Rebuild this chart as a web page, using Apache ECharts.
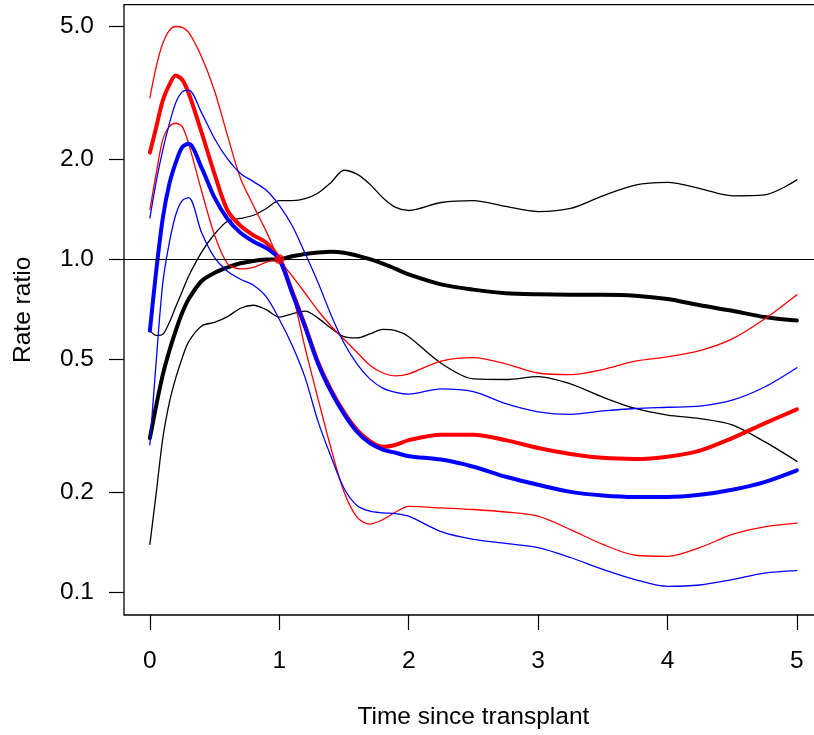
<!DOCTYPE html>
<html><head><meta charset="utf-8">
<script src="https://cdn.jsdelivr.net/npm/echarts@6/dist/echarts.min.js"></script>
<style>html,body{margin:0;padding:0;background:#fff;overflow:hidden}#c{width:840px;height:735px}</style>
</head><body><div id="c"></div>
<script>
// ---- data (rate ratios on a log scale) ----
const xs = [0,0.05,0.1,0.15,0.2,0.25,0.3,0.4,0.5,0.6,0.7,0.8,0.9,1.0,1.1,1.2,1.3,1.4,1.5,1.6,1.7,1.8,1.9,2.0,2.25,2.5,2.75,3.0,3.25,3.5,3.75,4.0,4.25,4.5,4.75,5.0];

const blackEst = [0.29,0.365,0.45,0.53,0.61,0.69,0.759,0.86,0.91,0.945,0.972,0.988,0.997,1.0,1.02,1.037,1.047,1.052,1.045,1.025,1.0,0.97,0.935,0.90,0.84,0.81,0.79,0.784,0.782,0.782,0.777,0.759,0.727,0.70,0.67,0.654];
const blackLo  = [0.139,0.20,0.29,0.37,0.44,0.505,0.565,0.63,0.646,0.672,0.712,0.727,0.705,0.67,0.685,0.698,0.665,0.62,0.585,0.58,0.596,0.615,0.61,0.585,0.487,0.437,0.435,0.444,0.422,0.385,0.356,0.34,0.332,0.318,0.283,0.247];
const blackHi  = [0.61,0.59,0.595,0.645,0.72,0.80,0.89,1.05,1.19,1.30,1.325,1.355,1.42,1.50,1.50,1.52,1.58,1.70,1.85,1.80,1.68,1.53,1.43,1.40,1.48,1.50,1.44,1.39,1.42,1.55,1.67,1.70,1.63,1.55,1.56,1.73];

const redEst = [2.09,2.5,3.0,3.34,3.56,3.46,3.15,2.4,1.80,1.40,1.26,1.18,1.12,1.0,0.80,0.63,0.49,0.405,0.347,0.307,0.284,0.273,0.277,0.286,0.297,0.297,0.286,0.271,0.26,0.253,0.251,0.255,0.266,0.29,0.321,0.354];
const redLo  = [1.41,1.82,2.29,2.50,2.56,2.50,2.22,1.6,1.18,0.97,0.935,0.945,0.98,1.0,0.79,0.54,0.38,0.27,0.20,0.168,0.16,0.165,0.174,0.181,0.179,0.177,0.174,0.169,0.154,0.139,0.129,0.128,0.136,0.149,0.157,0.161];
const redHi  = [3.05,3.8,4.45,4.86,5.0,4.97,4.8,4.05,3.2,2.35,1.75,1.45,1.21,1.0,0.89,0.79,0.70,0.63,0.575,0.525,0.48,0.455,0.446,0.452,0.494,0.506,0.485,0.455,0.45,0.466,0.494,0.509,0.531,0.576,0.661,0.782];

const blueEst = [0.61,0.93,1.33,1.68,1.95,2.17,2.22,1.88,1.53,1.32,1.20,1.13,1.08,1.0,0.79,0.625,0.485,0.40,0.343,0.303,0.28,0.268,0.262,0.256,0.25,0.238,0.222,0.21,0.20,0.195,0.193,0.193,0.196,0.203,0.214,0.232];
const blueLo  = [0.277,0.50,0.85,1.12,1.36,1.50,1.53,1.2,1.01,0.92,0.87,0.835,0.77,0.66,0.55,0.44,0.325,0.255,0.205,0.182,0.175,0.173,0.172,0.169,0.152,0.144,0.14,0.136,0.127,0.117,0.109,0.104,0.105,0.109,0.114,0.116];
const blueHi  = [1.33,1.72,2.13,2.55,2.95,3.18,3.22,2.75,2.3,2.0,1.81,1.71,1.61,1.45,1.26,1.04,0.85,0.68,0.56,0.485,0.437,0.41,0.398,0.393,0.408,0.40,0.368,0.348,0.342,0.35,0.356,0.359,0.362,0.377,0.413,0.472];

const refPoint = [[1, 1]];
const refLineValue = 1;

const xTickValues = [0,1,2,3,4,5];
const yTickValues = [0.1,0.2,0.5,1.0,2.0,5.0];
const yTickLabels = ['0.1','0.2','0.5','1.0','2.0','5.0'];

// ---- chart ----
const L = v => Math.log10(v);
const FONT = "'Liberation Sans', Arial, Helvetica, sans-serif";
const FS = 24.5;

function mk(name, vals, color, width, z) {
  return {
    type: 'line', name: name,
    data: xs.map((x, i) => [x, L(vals[i])]),
    showSymbol: false, symbol: 'none', smooth: 0.3,
    lineStyle: { color: color, width: width, cap: 'round', join: 'round' },
    itemStyle: { color: color },
    z: z, silent: true, animation: false
  };
}

const series = [
  mk('blackEst', blackEst, '#000000', 4, 2),
  mk('blackLo', blackLo, '#000000', 1.3, 2),
  mk('blackHi', blackHi, '#000000', 1.3, 2),
  mk('redEst', redEst, '#FF0000', 4, 3),
  mk('redLo', redLo, '#FF0000', 1.3, 3),
  mk('redHi', redHi, '#FF0000', 1.3, 3),
  mk('blueEst', blueEst, '#0000FF', 4, 4),
  mk('blueLo', blueLo, '#0000FF', 1.3, 4),
  mk('blueHi', blueHi, '#0000FF', 1.3, 4),
  {
    type: 'scatter', data: refPoint.map(p => [p[0], L(p[1])]),
    symbol: 'circle', symbolSize: 10, itemStyle: { color: '#FF0000' },
    z: 6, silent: true, animation: false
  }
];
series[0].markLine = {
  silent: true, symbol: ['none', 'none'], animation: false,
  label: { show: false },
  lineStyle: { color: '#000', width: 1.2, type: 'solid' },
  data: [{ yAxis: L(refLineValue) }]
};

const chart = echarts.init(document.getElementById('c'), null, { renderer: 'canvas' });
chart.setOption({
  animation: false,
  backgroundColor: '#ffffff',
  textStyle: { fontFamily: FONT },
  grid: { left: 124, top: 4.7, width: 698.8, height: 612.3, show: true, borderColor: '#000', borderWidth: 1.3, containLabel: false },
  xAxis: {
    type: 'value', min: -0.2, max: 5.2,
    axisLine: { show: false, onZero: false },
    axisTick: { show: true, inside: false, length: 15, customValues: xTickValues, lineStyle: { color: '#000', width: 1.2 } },
    axisLabel: { show: true, customValues: xTickValues, margin: 34, color: '#000', fontSize: FS, fontFamily: FONT, formatter: v => String(Math.round(v)) },
    splitLine: { show: false },
    name: 'Time since transplant', nameLocation: 'middle', nameGap: 90,
    nameTextStyle: { color: '#000', fontSize: FS, fontFamily: FONT }
  },
  yAxis: {
    type: 'value', min: -1.0689, max: 0.7644,
    axisLine: { show: false, onZero: false },
    axisTick: { show: true, inside: false, length: 15, customValues: yTickValues.map(L), lineStyle: { color: '#000', width: 1.2 } },
    axisLabel: {
      show: true, customValues: yTickValues.map(L), margin: 30, color: '#000', fontSize: FS, fontFamily: FONT,
      formatter: v => {
        let best = 0, bd = Infinity;
        yTickValues.forEach((t, i) => { const d = Math.abs(L(t) - v); if (d < bd) { bd = d; best = i; } });
        return yTickLabels[best];
      }
    },
    splitLine: { show: false },
    name: 'Rate ratio', nameLocation: 'middle', nameRotate: 90, nameGap: 88,
    nameTextStyle: { color: '#000', fontSize: FS, fontFamily: FONT }
  },
  series: series
});
</script>
</body></html>
